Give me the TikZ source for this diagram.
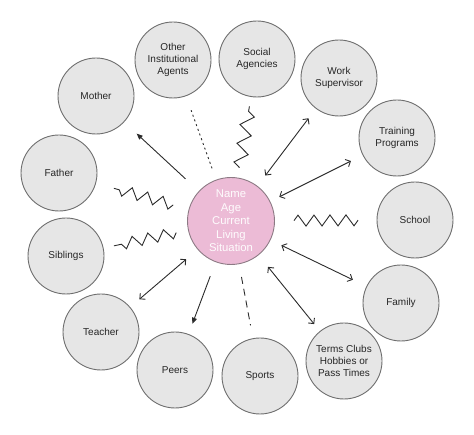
\documentclass[tikz,border=0pt]{standalone}
\usepackage{fontspec}
\setmainfont{Liberation Sans}
\usetikzlibrary{arrows.meta,calc,decorations.pathmorphing}
\definecolor{agentfill}{HTML}{E6E6E6}
\definecolor{agentline}{HTML}{6E6E6E}
\definecolor{mefill}{HTML}{ECBBD6}
\definecolor{meline}{HTML}{8C7A84}
\definecolor{inkline}{HTML}{2B2B2B}

\begin{document}
\begin{tikzpicture}[x=1pt, y=-1pt,
    agent/.style={circle, draw=agentline, fill=agentfill, line width=0.9pt,
        minimum size=76pt, inner sep=0pt, align=center,
        font=\fontsize{10}{12}\selectfont, text=black!85},
    self/.style={circle, draw=meline, fill=mefill, line width=0.9pt,
        minimum size=87pt, inner sep=0pt, align=center,
        font=\fontsize{11.3}{13.5}\selectfont, text=white!96!mefill},
    link/.style={draw=inkline, line width=0.9pt},
    oneway/.style={link, -{Triangle[length=6pt,width=5pt]}},
    twoway/.style={link, {Straight Barb[length=4pt,width=8pt]}-{Straight Barb[length=4pt,width=8pt]}},
    wavy/.style={link, decorate, decoration={zigzag, segment length=16pt, amplitude=5.5pt}}
]
    \useasboundingbox (0,0) rectangle (474,435);

    % Person in the middle
    \node[self] (me) at (231,221) {Name\\Age\\Current\\Living\\Situation};

    % Agents round the person
    \node[agent] (other)    at (173,60)  {Other\\Institutional\\Agents};
    \node[agent] (social)   at (257,59)  {Social\\Agencies};
    \node[agent] (work)     at (339,78)  {Work\\Supervisor};
    \node[agent] (training) at (397,138) {Training\\Programs};
    \node[agent] (school)   at (415,220) {School};
    \node[agent] (family)   at (401,303) {Family};
    \node[agent] (terms)    at (344,361) {Terms Clubs\\Hobbies or\\Pass Times};
    \node[agent] (sports)   at (260,376) {Sports};
    \node[agent] (peers)    at (175,370) {Peers};
    \node[agent] (teacher)  at (101,332) {Teacher};
    \node[agent] (siblings) at (66,256)  {Siblings};
    \node[agent] (father)   at (59,173)  {Father};
    \node[agent] (mother)   at (96,96)   {Mother};

    % Arrows
    \draw[oneway, shorten <=18pt, shorten >=17pt] (me) -- (mother);
    \draw[oneway, shorten <=15pt, shorten >=11pt] (me) -- (peers);
    \draw[twoway, shorten <=13pt, shorten >=12pt] (me) -- (work);
    \draw[twoway, shorten <=10pt, shorten >=13pt] (me) -- (training);
    \draw[twoway, shorten <=12pt, shorten >=15pt] (me) -- (family);
    \draw[twoway, shorten <=15pt, shorten >=9pt]  (me) -- (terms);
    \draw[twoway, shorten <=15pt, shorten >=12pt] (me) -- (teacher);

    % Dotted and dashed lines
    \draw[link, dash pattern=on 2pt off 3pt, shorten <=12pt, shorten >=15pt] (me) -- (other);
    \draw[link, dash pattern=on 7pt off 5pt, shorten <=13pt, shorten >=13pt] (me) -- (sports);

    % Zigzags
    \draw[wavy] ($(me)!60pt!(father)$) -- ($(father)!57pt!(me)$);
    \draw[wavy] ($(me)!56pt!(siblings)$) -- ($(siblings)!49pt!(me)$);
    \draw[wavy] ($(me)!63pt!(school)$) -- ($(school)!57pt!(me)$);
    \draw[wavy, decoration={zigzag, segment length=19pt, amplitude=6.5pt}] ($(me)!54pt!(social)$) -- ($(social)!48pt!(me)$);
\end{tikzpicture}
\end{document}
